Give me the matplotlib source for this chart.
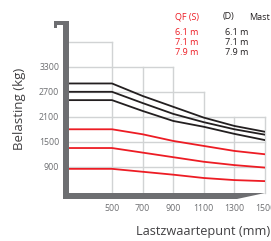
import matplotlib
matplotlib.use("Agg")
import matplotlib.pyplot as plt
from matplotlib.patches import Polygon

plt.rcParams['font.family'] = ['Open Sans', 'DejaVu Sans']

# lastzwaartepunt (mm)
afstand = [500, 700, 900, 1100, 1300, 1500]
# belasting (kg) - duplex (D), zwart
d_61 = [2900, 2600, 2340, 2080, 1880, 1740]
d_71 = [2700, 2430, 2170, 1970, 1800, 1670]
d_79 = [2500, 2240, 2000, 1860, 1690, 1540]
# belasting (kg) - QF (S), rood
s_61 = [1800, 1680, 1520, 1400, 1280, 1200]
s_71 = [1350, 1240, 1130, 1020, 940, 880]
s_79 = [850, 780, 710, 630, 580, 555]

yticks = [900, 1500, 2100, 2700, 3300]
xticks = [500, 700, 900, 1100, 1300, 1500]
# trapvormig raster: hoogte van elke verticale lijn, breedte van elke horizontale lijn
v_top = [3900, 3300, 3300, 2700, 2100, 2100]
h_lines = [3900, 3300, 2700, 2100, 1500, 900]
h_end = [500, 900, 1100, 1500, 1500, 1500]

masten = ["6.1 m", "7.1 m", "7.9 m"]

W, H = 271, 241
rood = "#ed1c24"
grijs = "#6d6e71"
raster = "#d1d3d4"

fig = plt.figure(figsize=(W / 100, H / 100), dpi=100)
ax = fig.add_axes([69 / W, 1 - 193 / H, (265 - 69) / W, (193 - 21) / H])
ax.set_xlim(219, 1500)
ax.set_ylim(270, 4400)

x0 = ax.get_xlim()[0]
for x, t in zip(xticks, v_top):
    ax.plot([x, x], [270, t], color=raster, lw=1.0, zorder=1, clip_on=False)
for y, e in zip(h_lines, h_end):
    ax.plot([x0, e], [y, y], color=raster, lw=1.0, zorder=1, clip_on=False)

for serie in (d_61, d_71, d_79):
    ax.plot([x0] + afstand, [serie[0]] + serie, color="#231f20", lw=1.3, zorder=3)
for serie in (s_61, s_71, s_79):
    ax.plot([x0] + afstand, [serie[0]] + serie, color=rood, lw=1.3, zorder=3)

for s in ax.spines.values():
    s.set_visible(False)
ax.patch.set_visible(False)
ax.set_xticks(xticks)
ax.set_yticks(yticks)
ax.tick_params(length=0, labelsize=6.3, labelcolor=grijs)
ax.tick_params(axis='y', pad=7)
ax.tick_params(axis='x', pad=8)

def px(x, y):
    return (x / W, 1 - y / H)

# donkergrijze assen
for pts in ([(63, 21), (69, 21), (69, 199), (63, 199)],
            [(63, 193), (265, 193), (237, 199), (63, 199)],
            [(54, 21), (63, 21), (63, 24.5), (57, 24.5), (57, 28), (54, 28)]):
    fig.add_artist(Polygon([px(*p) for p in pts], closed=True, color=grijs,
                           transform=fig.transFigure, lw=0))

fig.text(*px(20, 109), "Belasting (kg)", rotation=90, ha='center', va='center',
         fontsize=9.5, color="#414042")
fig.text(*px(270, 232), "Lastzwaartepunt (mm)", ha='right', va='center',
         fontsize=9.2, color="#414042")

fig.text(*px(175, 17), "QF (S)", color=rood, fontsize=6.5, va='center')
fig.text(*px(223, 17), "(D)", color="#231f20", fontsize=6.5, va='center')
fig.text(*px(249, 17), "Mast", color="#231f20", fontsize=6.5, va='center')
for i, m in enumerate(masten):
    fig.text(*px(175, 32.3 + 10 * i), m, color=rood, fontsize=6.5, va='center')
    fig.text(*px(225, 32.3 + 10 * i), m, color="#231f20", fontsize=6.5, va='center')

fig.savefig("out.png", dpi=100)
